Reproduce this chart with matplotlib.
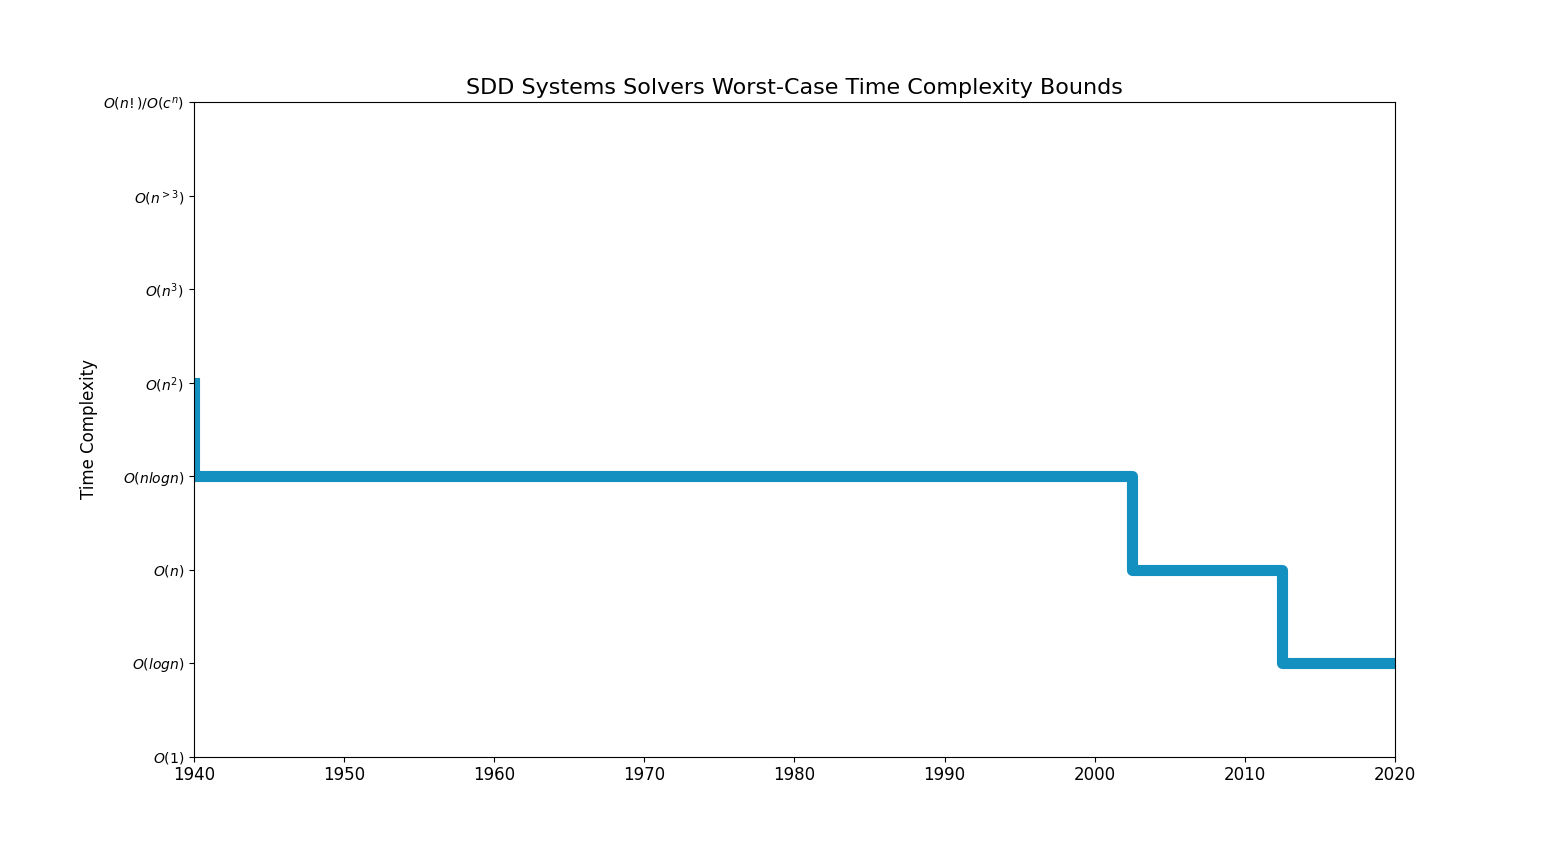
import matplotlib
matplotlib.use("Agg")
import matplotlib.pyplot as plt

# step data: year of each improvement and complexity class index
years = [1940, 1940, 2002.5, 2012.5, 2020]
levels = [4, 3, 2, 1, 1]
ticklabels = [r"$O(1)$", r"$O(logn)$", r"$O(n)$", r"$O(nlogn)$", r"$O(n^2)$",
              r"$O(n^3)$", r"$O(n^{>3})$", r"$O(n!)/O(c^n)$"]

fig, ax = plt.subplots(figsize=(15.5, 8.5), dpi=100)
ax.step(years, levels, where="post", color="#1490c0", linewidth=8)
ax.set_xlim(1940, 2020)
ax.set_ylim(0, 7)
ax.set_yticks(range(len(ticklabels)))
ax.set_yticklabels(ticklabels, fontsize=10)
ax.tick_params(axis="x", labelsize=12)
ax.set_ylabel("Time Complexity", fontsize=12)
ax.set_title("SDD Systems Solvers Worst-Case Time Complexity Bounds", fontsize=16)
fig.savefig("out.png")
